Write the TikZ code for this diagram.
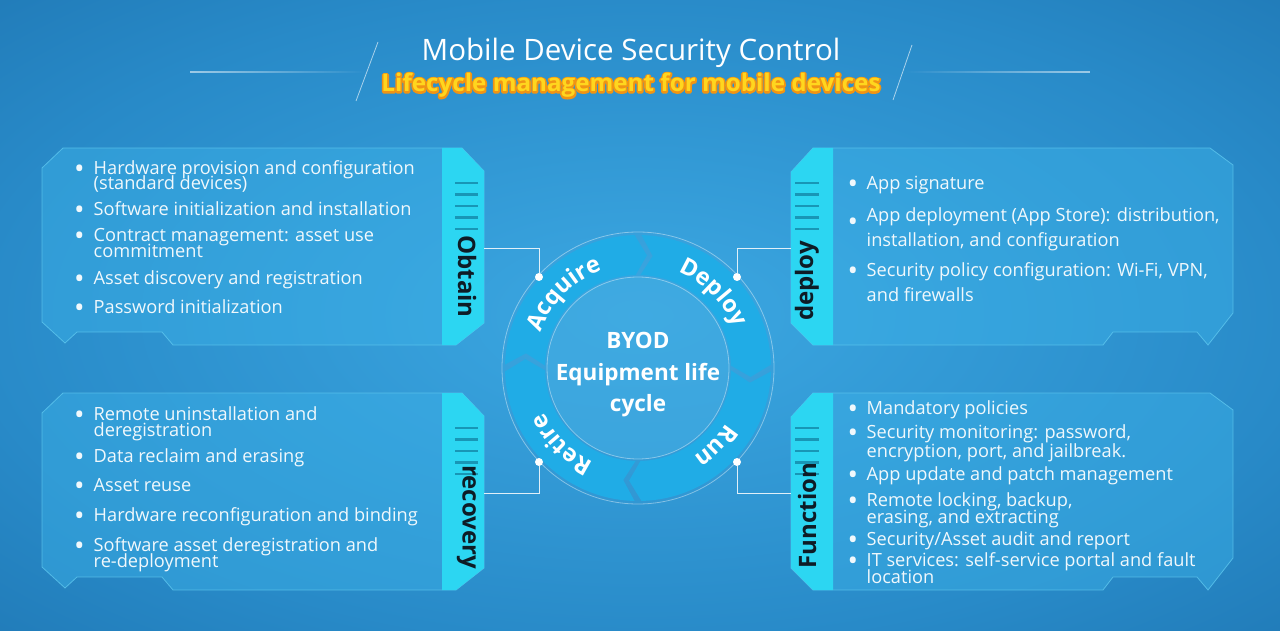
\documentclass[tikz,border=0pt]{standalone}
\usepackage{fontspec}
\setmainfont{Open Sans}
\usetikzlibrary{decorations.text,fadings}
\definecolor{bgin}{RGB}{60,168,226}
\definecolor{bgmid}{RGB}{40,138,200}
\definecolor{bgout}{RGB}{24,104,164}
\definecolor{panelfill}{RGB}{60,178,232}
\definecolor{paneledge}{RGB}{100,205,242}
\definecolor{tabc}{RGB}{44,214,242}
\definecolor{stripec}{RGB}{24,150,182}
\definecolor{labelc}{RGB}{14,28,38}
\definecolor{ringc}{RGB}{32,172,230}
\definecolor{discc}{RGB}{66,172,226}
\definecolor{subyellow}{RGB}{255,214,30}
\definecolor{suborange}{RGB}{240,148,20}
\definecolor{itemc}{RGB}{240,248,252}
\pgfdeclareradialshading{bgshade}{\pgfpoint{0bp}{0bp}}{color(0bp)=(bgin); color(26bp)=(bgmid); color(50bp)=(bgout); color(72bp)=(bgout)}
\newcommand\ringfont{\color{white}\fontsize{23.5}{23.5}\selectfont\bfseries}
\newcommand\outlineon{\special{pdf:literal direct 1 Tr 3.4 w 1 j 0.94 0.58 0.08 RG}}
\newcommand\outlineoff{\special{pdf:literal direct 0 Tr 1 w 0 j}}
\tikzset{
  panelbody/.style={fill=panelfill, fill opacity=0.45, draw=paneledge, draw opacity=0.7, line width=0.8pt},
  tabshape/.style={fill=tabc},
  stripe/.style={draw=stripec, line width=2.6pt},
  tablabel/.style={text=labelc, font=\fontsize{24}{24}\selectfont\bfseries, inner sep=0pt},
  itemtext/.style={text=itemc, font=\fontsize{18.2}{18.2}\selectfont, anchor=base west, inner sep=0pt},
  bulletmark/.style={text=itemc, font=\fontsize{28}{28}\selectfont, anchor=base, inner sep=0pt, yshift=-4pt},
  titletext/.style={text=white, font=\fontsize{29.5}{29.5}\selectfont, anchor=base, inner sep=0pt},
  subtext/.style={font=\fontsize{24.2}{24.2}\selectfont\bfseries, anchor=base, inner sep=0pt},
  centertext/.style={text=white, font=\fontsize{22.5}{31.5}\selectfont\bfseries, align=center, inner sep=0pt},
  conn/.style={draw=white, draw opacity=0.85, line width=0.9pt},
  dotmark/.style={circle, fill=white, inner sep=0pt, minimum size=8pt},
  segment/.style={fill=ringc},
  thinring/.style={draw=white, draw opacity=0.4, line width=0.8pt}
}
\newcommand\leftpanelshape{%
  \path[panelbody] (63,-148) -- (462,-148) -- (484,-171) -- (484,-323) -- (456,-345) -- (173,-345) -- (162,-332) -- (77,-332) -- (65,-343) -- (42,-322) -- (42,-168) -- cycle;
  \fill[tabshape] (442,-148) -- (462,-148) -- (484,-171) -- (484,-323) -- (456,-345) -- (442,-345) -- cycle;
  \foreach \yy in {183,194.5,206,217.5,229} \draw[stripe] (455,-\yy) -- (478,-\yy);}
\newcommand\rightpanelshape{%
  \path[panelbody] (813,-148) -- (1210,-148) -- (1233,-165) -- (1233,-313) -- (1208,-345) -- (1197,-332) -- (1113,-332) -- (1103,-345) -- (813,-345) -- (791,-323) -- (791,-172) -- cycle;
  \fill[tabshape] (813,-148) -- (833,-148) -- (833,-345) -- (813,-345) -- (791,-323) -- (791,-172) -- cycle;
  \foreach \yy in {183,194.5,206,217.5,229} \draw[stripe] (795,-\yy) -- (819,-\yy);}
\newcommand\ringseg[2]{%
  \fill[segment] (#1-1.5:133) arc[start angle=#1-1.5, end angle=#2+1.5, radius=133] -- (#2+1.5-6:113) -- (#2+1.5:93) arc[start angle=#2+1.5, end angle=#1-1.5, radius=93] -- (#1-1.5-6:113) -- cycle;}
\begin{document}
\begin{tikzpicture}[x=1pt,y=1pt]
\shade[shading=bgshade] (0,0) rectangle (1280,-631);
\useasboundingbox (0,0) rectangle (1280,-631);

% title decorations
\fill[white, opacity=0.55, path fading=east] (190,-71.3) rectangle (366,-72.7);
\fill[white, opacity=0.55, path fading=west] (905,-71.3) rectangle (1090,-72.7);
\draw[white, opacity=0.6, line width=0.8pt] (378,-42) -- (356,-101);
\draw[white, opacity=0.6, line width=0.8pt] (912,-45) -- (893,-100);

\node[titletext] (title) at (631,-61) {Mobile Device Security Control};
\node[subtext, text=suborange] (subtitleoutline) at (631,-92) {\outlineon Lifecycle management for mobile devices\outlineoff};
\node[subtext, text=subyellow] (subtitle) at (631,-92) {Lifecycle management for mobile devices};

% panels
\leftpanelshape
\begin{scope}[shift={(0,-245)}]\leftpanelshape\end{scope}
\rightpanelshape
\begin{scope}[shift={(0,-245)}]\rightpanelshape\end{scope}

% tab labels
\node[tablabel, rotate=-90] (obtain) at (467,-276.5) {Obtain};
\node[tablabel, rotate=-90] (recovery) at (466.5,-517) {recovery};
\node[tablabel, rotate=90] (deploy) at (807,-281) {deploy};
\node[tablabel, rotate=90] (function) at (807,-515.5) {Function};

% top-left items
\node[bulletmark] (tlb1) at (79.5,-175) {•};
\node[itemtext] (tl1a) at (93.5,-175) {Hardware provision and configuration};
\node[itemtext] (tl1b) at (93.5,-190) {(standard devices)};
\node[bulletmark] (tlb2) at (79.5,-216) {•};
\node[itemtext] (tl2) at (93.5,-216) {Software initialization and installation};
\node[bulletmark] (tlb3) at (79.5,-242) {•};
\node[itemtext] (tl3a) at (93.5,-242) {Contract management: asset use};
\node[itemtext] (tl3b) at (93.5,-258) {commitment};
\node[bulletmark] (tlb4) at (79.5,-284) {•};
\node[itemtext] (tl4) at (93.5,-284) {Asset discovery and registration};
\node[bulletmark] (tlb5) at (79.5,-313) {•};
\node[itemtext] (tl5) at (93.5,-313) {Password initialization};

% bottom-left items
\node[bulletmark] (blb1) at (79.5,-420) {•};
\node[itemtext] (bl1a) at (93.5,-420) {Remote uninstallation and};
\node[itemtext] (bl1b) at (93.5,-436) {deregistration};
\node[bulletmark] (blb2) at (79.5,-462.5) {•};
\node[itemtext] (bl2) at (93.5,-462.5) {Data reclaim and erasing};
\node[bulletmark] (blb3) at (79.5,-491.5) {•};
\node[itemtext] (bl3) at (93.5,-491.5) {Asset reuse};
\node[bulletmark] (blb4) at (79.5,-521.5) {•};
\node[itemtext] (bl4) at (93.5,-521.5) {Hardware reconfiguration and binding};
\node[bulletmark] (blb5) at (79.5,-551.5) {•};
\node[itemtext] (bl5a) at (93.5,-551.5) {Software asset deregistration and};
\node[itemtext] (bl5b) at (93.5,-567.5) {re-deployment};

% top-right items
\node[bulletmark] (trb1) at (853,-190) {•};
\node[itemtext] (tr1) at (866.5,-190) {App signature};
\node[bulletmark] (trb2) at (853,-227.5) {•};
\node[itemtext] (tr2a) at (866.5,-221.5) {App deployment (App Store): distribution,};
\node[itemtext] (tr2b) at (866.5,-246.5) {installation, and configuration};
\node[bulletmark] (trb3) at (853,-276.5) {•};
\node[itemtext] (tr3a) at (866.5,-276.5) {Security policy configuration: Wi-Fi, VPN,};
\node[itemtext] (tr3b) at (866.5,-301.5) {and firewalls};

% bottom-right items
\node[bulletmark] (brb1) at (853,-414.5) {•};
\node[itemtext] (br1) at (866.5,-414.5) {Mandatory policies};
\node[bulletmark] (brb2) at (853,-438.5) {•};
\node[itemtext] (br2a) at (866.5,-438.5) {Security monitoring: password,};
\node[itemtext] (br2b) at (866.5,-457) {encryption, port, and jailbreak.};
\node[bulletmark] (brb3) at (853,-480) {•};
\node[itemtext] (br3) at (866.5,-480) {App update and patch management};
\node[bulletmark] (brb4) at (853,-506.5) {•};
\node[itemtext] (br4a) at (866.5,-506.5) {Remote locking, backup,};
\node[itemtext] (br4b) at (866.5,-523.5) {erasing, and extracting};
\node[bulletmark] (brb5) at (853,-545) {•};
\node[itemtext] (br5) at (866.5,-545) {Security/Asset audit and report};
\node[bulletmark] (brb6) at (853,-566.5) {•};
\node[itemtext] (br6a) at (866.5,-566.5) {IT services: self-service portal and fault};
\node[itemtext] (br6b) at (866.5,-583.5) {location};

% lifecycle ring
\begin{scope}[shift={(638,-368)}]
  \fill[discc, opacity=0.6] (0,0) circle[radius=91];
  \ringseg{180}{90}
  \ringseg{90}{0}
  \ringseg{0}{-90}
  \ringseg{-90}{-180}
  \draw[thinring] (0,0) circle[radius=136];
  \draw[thinring] (0,0) circle[radius=91];
  \path[decorate, decoration={text along path, text align=center, text color=white, text={|\ringfont|Acquire}}] (174:104) arc[start angle=174, end angle=96, radius=104];
  \path[decorate, decoration={text along path, text align=center, text color=white, text={|\ringfont|Deploy}}] (84:104) arc[start angle=84, end angle=6, radius=104];
  \path[decorate, decoration={text along path, text align=center, text color=white, text={|\ringfont|Run}}] (-6:104) arc[start angle=-6, end angle=-84, radius=104];
  \path[decorate, decoration={text along path, text align=center, text color=white, text={|\ringfont|Retire}}] (-96:104) arc[start angle=-96, end angle=-174, radius=104];
  \node[centertext] (center) at (0,-7) {BYOD\\Equipment life\\cycle};
\end{scope}

% connectors
\coordinate (obtainport) at (484,-248);
\coordinate (deployport) at (791,-248);
\coordinate (recport) at (484,-493);
\coordinate (funcport) at (791,-493);
\node[dotmark] (acqdot) at (539,-277) {};
\node[dotmark] (depdot) at (737,-277) {};
\node[dotmark] (retdot) at (539,-462) {};
\node[dotmark] (rundot) at (737,-462) {};
\draw[conn] (obtainport) -| (acqdot);
\draw[conn] (depdot) |- (deployport);
\draw[conn] (recport) -| (retdot);
\draw[conn] (rundot) |- (funcport);
\end{tikzpicture}
\end{document}
